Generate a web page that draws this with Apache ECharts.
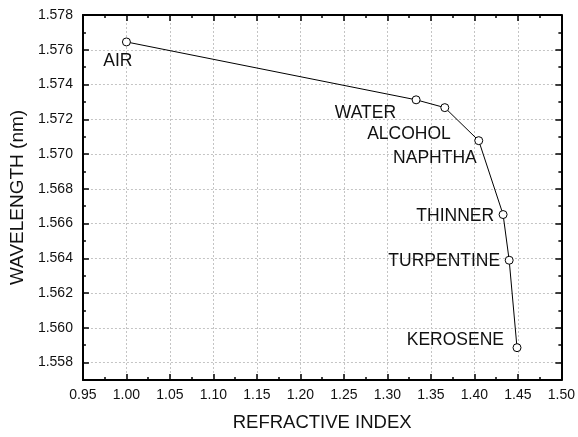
<!DOCTYPE html>
<html lang="en">
<head>
    <meta charset="UTF-8">
    <title>Wavelength vs refractive index</title>
    <script src="https://cdn.jsdelivr.net/npm/echarts@6/dist/echarts.min.js"></script>
    <style>
        html, body { margin: 0; padding: 0; background: #fff; }
        #chart { width: 578px; height: 437px; }
    </style>
</head>
<body>
    <div id="chart"></div>
    <script>
        // data
        const liquids = ['AIR', 'WATER', 'ALCOHOL', 'NAPHTHA', 'THINNER', 'TURPENTINE', 'KEROSENE'];
        const refractiveIndex = [1.000, 1.333, 1.366, 1.405, 1.433, 1.440, 1.449];
        const wavelength = [1.57645, 1.57312, 1.57267, 1.57077, 1.56652, 1.56389, 1.55886];
        const yLabels = [1.558, 1.560, 1.562, 1.564, 1.566, 1.568, 1.570, 1.572, 1.574, 1.576, 1.578];

        // label placement per point: [align, dx, dy]
        const labelPlace = [
            ['right', 6, 19],
            ['right', -20, 13],
            ['right', 6, 27],
            ['right', -2, 18],
            ['right', -9, 2],
            ['right', -9, 1],
            ['right', -13, -7]
        ];

        const font = 'Liberation Sans, Arial, sans-serif';
        const frame = { show: true, onZero: false, lineStyle: { color: '#000', width: 2 } };
        const grid = { show: true, lineStyle: { color: '#c4c4c4', width: 1, type: [2, 2] } };

        const points = liquids.map((name, i) => ({
            name: name,
            value: [refractiveIndex[i], wavelength[i]],
            label: {
                show: true,
                formatter: name,
                position: 'inside',
                align: labelPlace[i][0],
                verticalAlign: 'middle',
                offset: [labelPlace[i][1], labelPlace[i][2]],
                color: '#111',
                fontSize: 17.5,
                fontFamily: font
            }
        }));

        const chart = echarts.init(document.getElementById('chart'));

        const xBase = {
            type: 'value', min: 0.95, max: 1.5, interval: 0.05,
            axisLine: frame,
            axisTick: { inside: true, length: 6, lineStyle: { color: '#000', width: 1.5 } },
            minorTick: { show: true, splitNumber: 2, length: 3, lineStyle: { color: '#000', width: 1.5 } }
        };

        const yMajor = {
            type: 'value', min: 1.557, max: 1.578,
            axisLine: frame,
            axisTick: { inside: true, length: 6, customValues: yLabels, lineStyle: { color: '#000', width: 1.5 } }
        };
        const yMinor = {
            type: 'value', min: 1.557, max: 1.578, interval: 0.001,
            axisLine: { show: false },
            axisLabel: { show: false },
            splitLine: { show: false },
            axisTick: { inside: true, length: 3, lineStyle: { color: '#000', width: 1.5 } }
        };

        chart.setOption({
            animation: false,
            grid: { left: 82, right: 16, top: 15, bottom: 55, containLabel: false },
            xAxis: [
                Object.assign({}, xBase, {
                    position: 'bottom',
                    name: 'REFRACTIVE INDEX',
                    nameLocation: 'middle',
                    nameGap: 33,
                    nameTextStyle: { color: '#111', fontSize: 18.5, fontFamily: font },
                    axisLabel: { color: '#111', fontSize: 14, fontFamily: font, margin: 8,
                        formatter: v => v.toFixed(2) },
                    splitLine: grid
                }),
                Object.assign({}, xBase, {
                    position: 'top',
                    axisLabel: { show: false },
                    splitLine: { show: false }
                })
            ],
            yAxis: [
                Object.assign({}, yMajor, {
                    position: 'left',
                    name: 'WAVELENGTH (nm)',
                    nameLocation: 'middle',
                    nameGap: 52,
                    nameTextStyle: { color: '#111', fontSize: 19, fontFamily: font },
                    axisLabel: { color: '#111', fontSize: 14, fontFamily: font, margin: 10,
                        customValues: yLabels, formatter: v => v.toFixed(3) },
                    splitLine: grid
                }),
                Object.assign({}, yMinor, { position: 'left' }),
                Object.assign({}, yMajor, {
                    position: 'right',
                    axisLabel: { show: false },
                    splitLine: { show: false }
                }),
                Object.assign({}, yMinor, { position: 'right' })
            ],
            series: [{
                type: 'line',
                xAxisIndex: 0,
                yAxisIndex: 0,
                data: points,
                symbol: 'circle',
                symbolSize: 8,
                showAllSymbol: true,
                lineStyle: { color: '#000', width: 1 },
                itemStyle: { color: '#fff', borderColor: '#000', borderWidth: 1 },
                z: 5
            }]
        });
    </script>
</body>
</html>
